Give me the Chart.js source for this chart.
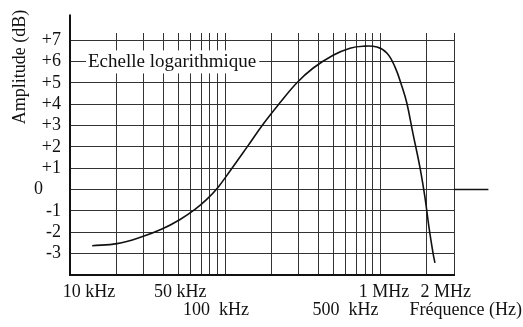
<!DOCTYPE html>
<html>
<head>
<meta charset="utf-8">
<script src="https://cdn.jsdelivr.net/npm/chart.js@4/dist/chart.umd.min.js"></script>
<style>
  body { margin: 0; background: #fff; }
  canvas { display: block; }
</style>
</head>
<body>
<canvas id="bode" width="523" height="327"></canvas>
<script>
// frequency response (Hz, dB)
const freqs = [13900, 20100, 29100, 39200, 51300, 64000, 76500, 90000, 108000, 139000,
  176000, 226000, 291000, 369000, 498000, 640000, 777000, 956000, 1110000, 1250000,
  1390000, 1490000, 1630000, 1810000, 1950000, 2070000, 2200000, 2260000];
const amps = [-2.63, -2.53, -2.21, -1.85, -1.40, -0.93, -0.45, 0.10, 0.88, 2.00,
  3.06, 4.06, 5.00, 5.68, 6.29, 6.62, 6.71, 6.67, 6.38, 5.73,
  4.79, 4.04, 2.63, 1.03, -0.38, -1.78, -3.0, -3.43];

// log grid: 1..9 x each decade, from 10 kHz to 3 MHz
const xGrid = [10000, 20000, 30000, 40000, 50000, 60000, 70000, 80000, 90000,
  100000, 200000, 300000, 400000, 500000, 600000, 700000, 800000, 900000,
  1000000, 2000000, 3000000];
const xLabelValues = [10000, 50000, 100000, 500000, 1000000, 2000000];
const xLabelTexts = ['10 kHz', '50 kHz', '100  kHz', '500  kHz', '1 MHz', '2 MHz'];
const xLabelRows = [0, 0, 1, 1, 0, 0];

const yTicks = [-4, -3, -2, -1, 0, 1, 2, 3, 4, 5, 6, 7];
const yTickLabels = ['', '-3', '-2', '-1', '0    ', '+1', '+2', '+3', '+4', '+5', '+6', '+7'];

const serif = "'Liberation Serif', 'DejaVu Serif', serif";
const ink = '#111';

const extras = {
  id: 'extras',
  afterDraw(chart) {
    const { ctx, scales: { x, y } } = chart;
    ctx.save();
    ctx.strokeStyle = ink;
    ctx.fillStyle = ink;

    // y axis runs on above the grid
    ctx.lineWidth = 2;
    ctx.beginPath();
    ctx.moveTo(x.left, y.top);
    ctx.lineTo(x.left, y.getPixelForValue(8.2));
    ctx.stroke();

    // 0 dB line runs on to the right
    ctx.lineWidth = 1.5;
    ctx.beginPath();
    ctx.moveTo(x.right, y.getPixelForValue(0));
    ctx.lineTo(x.getPixelForValue(5000000), y.getPixelForValue(0));
    ctx.stroke();

    // "Echelle logarithmique" sitting on the +6 line
    ctx.font = '19px ' + serif;
    const ey = y.getPixelForValue(6);
    const ex = x.left + 18;
    const label = 'Echelle logarithmique';
    const w = ctx.measureText(label).width;
    ctx.fillStyle = '#fff';
    ctx.fillRect(ex - 2, ey - 11, w + 5, 23);
    ctx.fillStyle = ink;
    ctx.textAlign = 'left';
    ctx.textBaseline = 'middle';
    ctx.fillText(label, ex, ey + 1);

    // frequency labels, two staggered rows
    ctx.font = '18px ' + serif;
    const nudge = [19, 2, -9, 12, 4, 19];
    ctx.textAlign = 'center';
    ctx.textBaseline = 'top';
    xLabelValues.forEach((v, i) => {
      const px = x.getPixelForValue(v) + nudge[i];
      ctx.fillText(xLabelTexts[i], px, y.bottom + 8 + xLabelRows[i] * 18);
    });
    ctx.textAlign = 'right';
    ctx.fillText('Fréquence (Hz)', chart.width - 1, y.bottom + 26);

    // axis title
    ctx.translate(20, 67);
    ctx.rotate(-Math.PI / 2);
    ctx.textAlign = 'center';
    ctx.textBaseline = 'middle';
    ctx.fillText('Amplitude (dB)', 0, 0);
    ctx.restore();
  }
};

new Chart(document.getElementById('bode'), {
  type: 'line',
  data: {
    datasets: [{
      data: freqs.map((f, i) => ({ x: f, y: amps[i] })),
      borderColor: ink,
      borderWidth: 1.6,
      pointRadius: 0,
      tension: 0.4,
      fill: false
    }]
  },
  options: {
    responsive: false,
    animation: false,
    devicePixelRatio: 1,
    layout: { padding: { left: 0, right: 69, top: 33, bottom: 52 } },
    plugins: { legend: { display: false }, tooltip: { enabled: false } },
    scales: {
      x: {
        type: 'logarithmic',
        min: 10000,
        max: 3000000,
        afterBuildTicks: (s) => { s.ticks = xGrid.map(v => ({ value: v })); },
        afterFit: (s) => { s.height = 0; },
        ticks: { display: false, autoSkip: false },
        grid: { color: '#333', lineWidth: 1, drawTicks: false },
        border: { color: ink, width: 2 }
      },
      y: {
        min: -4,
        max: 7.33,
        afterBuildTicks: (s) => { s.ticks = yTicks.map(v => ({ value: v })); },
        afterFit: (s) => { s.width = 70; },
        ticks: {
          autoSkip: false,
          padding: 9,
          color: ink,
          font: { family: serif, size: 18 },
          callback: (v) => yTickLabels[yTicks.indexOf(v)]
        },
        grid: { color: '#333', lineWidth: 1, drawTicks: false },
        border: { color: ink, width: 2 }
      }
    }
  },
  plugins: [extras]
});
</script>
</body>
</html>
